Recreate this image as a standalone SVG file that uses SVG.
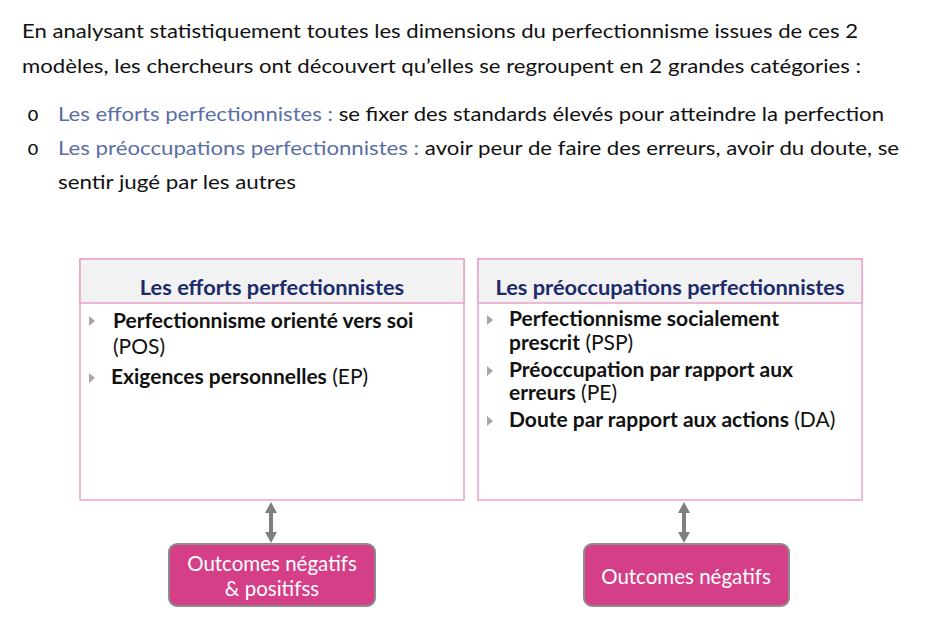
<svg xmlns="http://www.w3.org/2000/svg" width="931" height="629" viewBox="0 0 931 629">
<style>
.t{font-family:Lato,"Liberation Sans",sans-serif;font-size:20px;fill:#111}
.b{fill:#5a6ea6}
.bul{font-family:"Liberation Mono",monospace;font-size:20px;fill:#111}
.hdr{font-family:Lato,"Liberation Sans",sans-serif;font-size:21.8px;font-weight:bold;fill:#1b2a6b;text-anchor:middle}
.it{font-family:Lato,"Liberation Sans",sans-serif;font-size:21px;fill:#111}
.bd{font-weight:bold}
.box{fill:#fff;stroke:#e9a3c9;stroke-width:1.5}
.head{fill:#f2f2f2;stroke:#e9a3c9;stroke-width:1.5}
.tri{fill:#a6a6a6}
.out{fill:#d43f88;stroke:#8c8c8c;stroke-width:2}
.ot{font-family:Lato,"Liberation Sans",sans-serif;font-size:20.5px;fill:#fff;text-anchor:middle}
.arr{fill:#7f7f7f}
</style>
<rect width="931" height="629" fill="#fff"/>
<g id="intro">
<text class="t" x="22" y="38" textLength="836" lengthAdjust="spacingAndGlyphs">En analysant statistiquement toutes les dimensions du perfectionnisme issues de ces 2</text>
<text class="t" x="22" y="73" textLength="839" lengthAdjust="spacingAndGlyphs">modèles, les chercheurs ont découvert qu’elles se regroupent en 2 grandes catégories :</text>
<text class="bul" x="27" y="121">o</text>
<text class="t" x="58" y="121" textLength="826" lengthAdjust="spacingAndGlyphs"><tspan class="b">Les efforts perfectionnistes :</tspan> se fixer des standards élevés pour atteindre la perfection</text>
<text class="bul" x="27" y="155">o</text>
<text class="t" x="58" y="155" textLength="841" lengthAdjust="spacingAndGlyphs"><tspan class="b">Les préoccupations perfectionnistes :</tspan> avoir peur de faire des erreurs, avoir du doute, se</text>
<text class="t" x="58" y="189" textLength="238" lengthAdjust="spacingAndGlyphs">sentir jugé par les autres</text>
</g>
<g id="efforts">
<rect class="box" x="80" y="259" width="384" height="241"/>
<rect class="head" x="80" y="259" width="384" height="44"/>
<text class="hdr" x="272" y="295">Les efforts perfectionnistes</text>
<path class="tri" d="M89,316 L95,321 L89,326 Z"/>
<text class="it" x="113" y="328"><tspan class="bd">Perfectionnisme orienté vers soi</tspan></text>
<text class="it" x="113" y="354">(POS)</text>
<path class="tri" d="M89,373 L95,378 L89,383 Z"/>
<text class="it" x="111" y="384"><tspan class="bd">Exigences personnelles</tspan> (EP)</text>
</g>
<g id="preoccupations">
<rect class="box" x="478" y="259" width="384" height="241"/>
<rect class="head" x="478" y="259" width="384" height="44"/>
<text class="hdr" x="670" y="295">Les préoccupations perfectionnistes</text>
<path class="tri" d="M487,315 L493,320 L487,325 Z"/>
<text class="it" x="509" y="326"><tspan class="bd">Perfectionnisme socialement</tspan></text>
<text class="it" x="509" y="350"><tspan class="bd">prescrit</tspan> (PSP)</text>
<path class="tri" d="M487,366 L493,371 L487,376 Z"/>
<text class="it" x="509" y="377"><tspan class="bd">Préoccupation par rapport aux</tspan></text>
<text class="it" x="509" y="400"><tspan class="bd">erreurs</tspan> (PE)</text>
<path class="tri" d="M487,416 L493,421 L487,426 Z"/>
<text class="it" x="509" y="427"><tspan class="bd">Doute par rapport aux actions</tspan> (DA)</text>
</g>
<g id="out1">
<rect class="out" x="169" y="544" width="206" height="62" rx="8"/>
<text class="ot" x="272" y="571">Outcomes négatifs</text>
<text class="ot" x="272" y="596">&amp; positifss</text>
</g>
<g id="out2">
<rect class="out" x="584" y="544" width="205" height="62" rx="8"/>
<text class="ot" x="686" y="584">Outcomes négatifs</text>
</g>
<g id="connectors">
<path class="arr" d="M271,502 L277,513 L273,513 L273,532 L277,532 L271,543 L265,532 L269,532 L269,513 L265,513 Z"/>
<path class="arr" d="M684,502 L690,513 L686,513 L686,532 L690,532 L684,543 L678,532 L682,532 L682,513 L678,513 Z"/>
</g>
</svg>
